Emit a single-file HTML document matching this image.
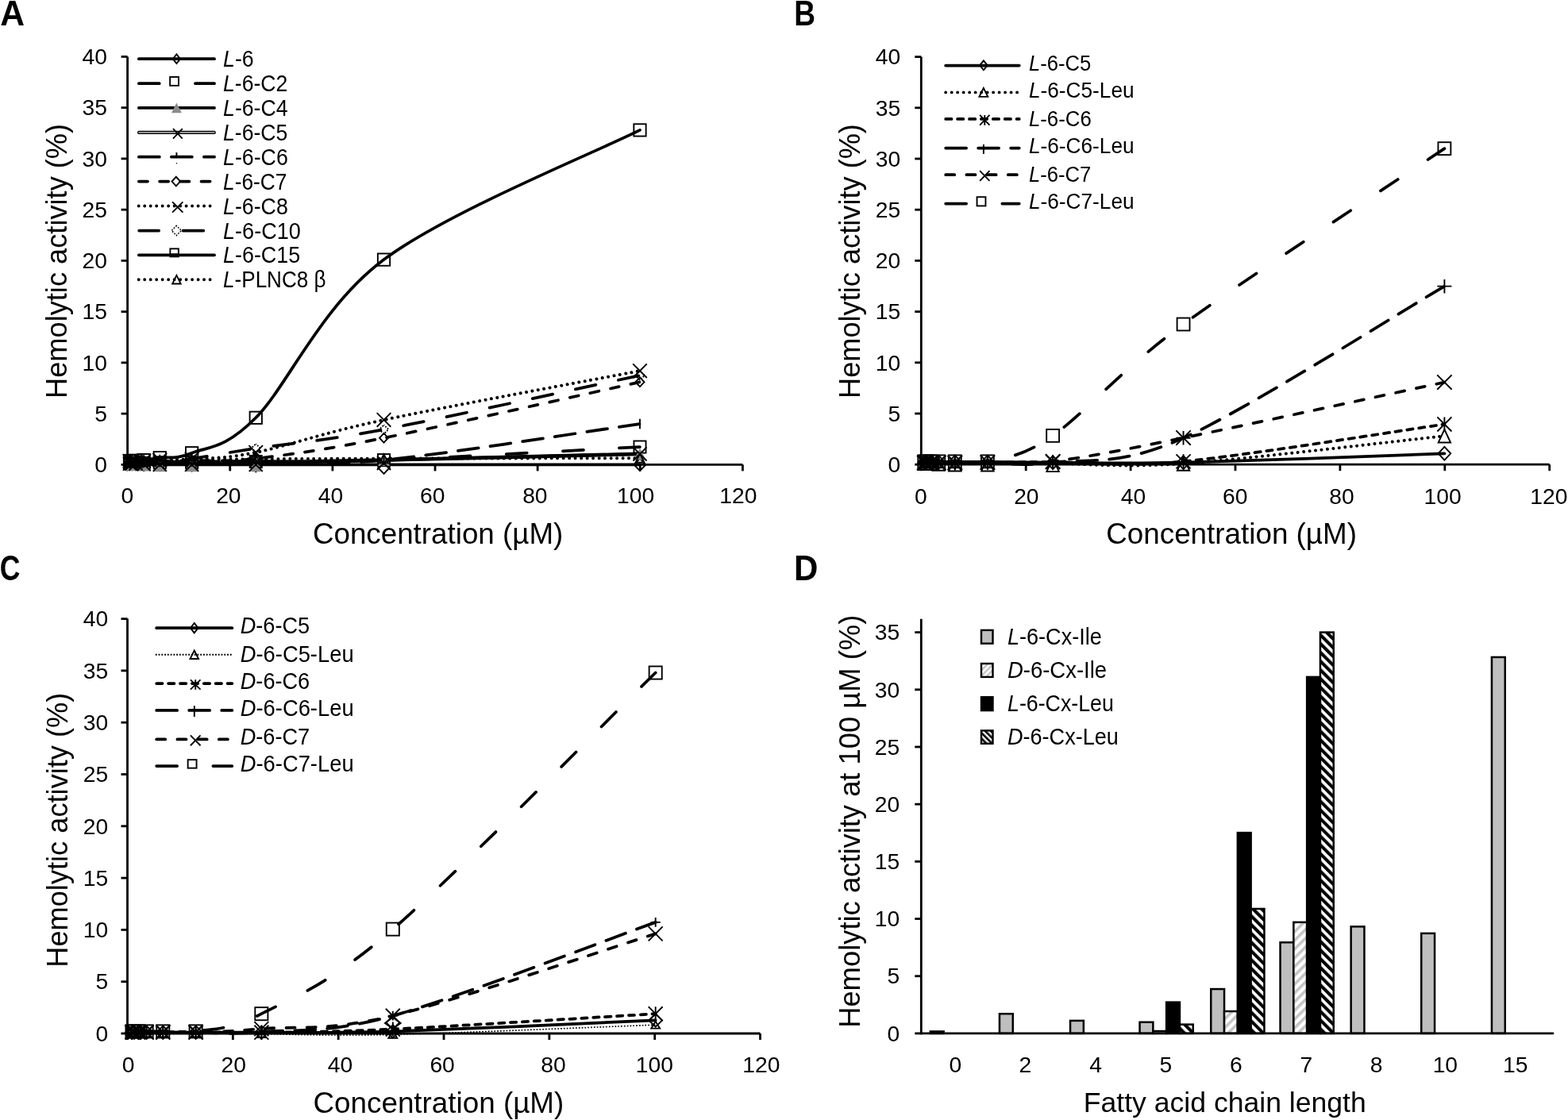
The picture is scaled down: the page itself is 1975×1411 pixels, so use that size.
<!DOCTYPE html><html><head><meta charset="utf-8"><title>Hemolytic activity</title><style>html,body{margin:0;padding:0;background:#fff}svg{display:block;font-kerning:none}</style></head><body>
<svg width="1975" height="1411" viewBox="0 0 1975 1411" font-family='"Liberation Sans", Arial, sans-serif'>
<defs><pattern id="hatchD" patternUnits="userSpaceOnUse" width="7.8" height="7.8" patternTransform="rotate(-45)"><rect width="7.8" height="7.8" fill="#fff"/><rect width="4.1" height="7.8" fill="#000"/></pattern><pattern id="hatchL" patternUnits="userSpaceOnUse" width="7.8" height="7.8" patternTransform="rotate(45)"><rect width="7.8" height="7.8" fill="#fff"/><rect width="3.6" height="7.8" fill="#c4c4c4"/></pattern><pattern id="hatchDs" patternUnits="userSpaceOnUse" width="5" height="5" patternTransform="rotate(-45)"><rect width="5" height="5" fill="#fff"/><rect width="2.6" height="5" fill="#000"/></pattern><pattern id="hatchLs" patternUnits="userSpaceOnUse" width="5" height="5" patternTransform="rotate(45)"><rect width="5" height="5" fill="#fff"/><rect width="2.4" height="5" fill="#c4c4c4"/></pattern></defs>
<rect width="1975" height="1411" fill="#fff"/>
<text x="0.34" y="31.9" font-size="44.5" font-weight="bold" textLength="30.79" lengthAdjust="spacingAndGlyphs">A</text>
<text x="1000.22" y="31.9" font-size="44.5" font-weight="bold" textLength="26.76" lengthAdjust="spacingAndGlyphs">B</text>
<text x="-0.16" y="731.2" font-size="44.5" font-weight="bold" textLength="25.74" lengthAdjust="spacingAndGlyphs">C</text>
<text x="999.89" y="731.2" font-size="44.5" font-weight="bold" textLength="30.38" lengthAdjust="spacingAndGlyphs">D</text>
<path d="M160.6,71.4 L160.6,585.4 L935.44,585.4" fill="none" stroke="#000" stroke-width="2.8" stroke-linejoin="round"/>
<line x1="152.6" y1="585.4" x2="160.6" y2="585.4" stroke="#000" stroke-width="2.8"/>
<line x1="152.6" y1="521.15" x2="160.6" y2="521.15" stroke="#000" stroke-width="2.8"/>
<line x1="152.6" y1="456.9" x2="160.6" y2="456.9" stroke="#000" stroke-width="2.8"/>
<line x1="152.6" y1="392.65" x2="160.6" y2="392.65" stroke="#000" stroke-width="2.8"/>
<line x1="152.6" y1="328.4" x2="160.6" y2="328.4" stroke="#000" stroke-width="2.8"/>
<line x1="152.6" y1="264.15" x2="160.6" y2="264.15" stroke="#000" stroke-width="2.8"/>
<line x1="152.6" y1="199.9" x2="160.6" y2="199.9" stroke="#000" stroke-width="2.8"/>
<line x1="152.6" y1="135.65" x2="160.6" y2="135.65" stroke="#000" stroke-width="2.8"/>
<line x1="152.6" y1="71.4" x2="160.6" y2="71.4" stroke="#000" stroke-width="2.8"/>
<line x1="160.6" y1="585.4" x2="160.6" y2="593.4" stroke="#000" stroke-width="2.8"/>
<line x1="289.74" y1="585.4" x2="289.74" y2="593.4" stroke="#000" stroke-width="2.8"/>
<line x1="418.88" y1="585.4" x2="418.88" y2="593.4" stroke="#000" stroke-width="2.8"/>
<line x1="548.02" y1="585.4" x2="548.02" y2="593.4" stroke="#000" stroke-width="2.8"/>
<line x1="677.16" y1="585.4" x2="677.16" y2="593.4" stroke="#000" stroke-width="2.8"/>
<line x1="806.3" y1="585.4" x2="806.3" y2="593.4" stroke="#000" stroke-width="2.8"/>
<line x1="935.44" y1="585.4" x2="935.44" y2="593.4" stroke="#000" stroke-width="2.8"/>
<text x="119.19" y="595.12" font-size="28.25">0</text>
<text x="119.27" y="530.87" font-size="28.25">5</text>
<text x="103.48" y="466.62" font-size="28.25">10</text>
<text x="103.56" y="402.37" font-size="28.25">15</text>
<text x="103.48" y="338.12" font-size="28.25">20</text>
<text x="103.56" y="273.87" font-size="28.25">25</text>
<text x="103.48" y="209.62" font-size="28.25">30</text>
<text x="103.56" y="145.37" font-size="28.25">35</text>
<text x="103.48" y="81.12" font-size="28.25">40</text>
<text x="152.54" y="634.4" font-size="28.25">0</text>
<text x="272.13" y="634.4" font-size="28.25">20</text>
<text x="400.72" y="634.4" font-size="28.25">40</text>
<text x="529.12" y="634.4" font-size="28.25">60</text>
<text x="658.13" y="634.4" font-size="28.25">80</text>
<text x="777.11" y="634.4" font-size="28.25">100</text>
<text x="906.31" y="634.4" font-size="28.25">120</text>
<path d="M163.52,584.12 C163.93,584.12 164.77,584.12 166.03,584.12 C167.29,584.12 168.54,584.12 171.06,584.12 C173.58,584.12 176.11,584.12 181.16,584.12 C186.2,584.12 191.23,584.12 201.31,584.12 C211.39,584.12 221.47,584.33 241.62,584.12 C261.78,583.9 281.94,583.58 322.25,582.83 C362.56,582.08 402.88,581.44 483.5,579.62 C564.12,577.8 752.25,573.19 806,571.91" fill="none" stroke="#000" stroke-width="4.6" stroke-linecap="round" stroke-linejoin="round"/>
<path d="M163.52,584.12 C163.93,584.12 164.77,584.12 166.03,584.12 C167.29,584.12 168.54,584.12 171.06,584.12 C173.58,584.12 176.11,584.12 181.16,584.12 C186.2,584.12 191.23,584.12 201.31,584.12 C211.39,584.12 221.47,584.33 241.62,584.12 C261.78,583.9 281.94,583.58 322.25,582.83 C362.56,582.08 402.88,581.44 483.5,579.62 C564.12,577.8 752.25,573.19 806,571.91" fill="none" stroke="#a6a6a6" stroke-width="1.8" stroke-linecap="round" stroke-linejoin="round"/>
<path d="M163.52,584.76 C163.93,584.76 164.77,584.76 166.03,584.76 C167.29,584.76 168.54,584.65 171.06,584.76 C173.58,584.86 176.11,585.29 181.16,585.4 C186.2,585.51 191.23,585.4 201.31,585.4 C211.39,585.4 221.47,585.4 241.62,585.4 C261.78,585.4 281.94,585.4 322.25,585.4 C362.56,585.4 402.88,585.4 483.5,585.4 C564.12,585.4 752.25,585.4 806,585.4" fill="none" stroke="#000" stroke-width="3.75" stroke-linecap="round" stroke-linejoin="round"/>
<path d="M163.52,584.12 C163.93,584.12 164.77,584.12 166.03,584.12 C167.29,584.12 168.54,584.22 171.06,584.12 C173.58,584.01 176.11,583.69 181.16,583.47 C186.2,583.26 191.23,582.94 201.31,582.83 C211.39,582.72 221.47,583.04 241.62,582.83 C261.78,582.62 281.94,582.08 322.25,581.54 C362.56,581.01 402.88,582.7 483.5,579.62 C564.12,576.53 752.25,565.8 806,563.04" fill="none" stroke="#000" stroke-width="3.75" stroke-linecap="round" stroke-linejoin="round" stroke-dasharray="25.95 45.25" stroke-dashoffset="-47.3"/>
<path d="M163.52,584.12 C163.93,584.12 164.77,584.12 166.03,584.12 C167.29,584.12 168.54,584.12 171.06,584.12 C173.58,584.12 176.11,584.12 181.16,584.12 C186.2,584.12 191.23,584.12 201.31,584.12 C211.39,584.12 221.47,584.12 241.62,584.12 C261.78,584.12 281.94,584.86 322.25,584.12 C362.56,583.37 402.88,581.65 483.5,579.62 C564.12,577.58 752.25,573.19 806,571.91" fill="none" stroke="#000" stroke-width="3.75" stroke-linecap="round" stroke-linejoin="round"/>
<path d="M163.52,581.54 C163.93,581.54 164.77,581.54 166.03,581.54 C167.29,581.54 168.54,581.54 171.06,581.54 C173.58,581.54 176.11,581.54 181.16,581.54 C186.2,581.54 191.23,581.54 201.31,581.54 C211.39,581.54 221.47,581.65 241.62,581.54 C261.78,581.44 281.94,581.22 322.25,580.9 C362.56,580.58 402.88,587.43 483.5,579.62 C564.12,571.8 752.25,541.6 806,534" fill="none" stroke="#000" stroke-width="3.75" stroke-linecap="round" stroke-linejoin="round" stroke-dasharray="25.95 15.05" stroke-dashoffset="-4.4"/>
<path d="M163.52,582.19 C163.93,582.19 164.77,582.19 166.03,582.19 C167.29,582.19 168.54,582.19 171.06,582.19 C173.58,582.19 176.11,582.29 181.16,582.19 C186.2,582.08 191.23,581.87 201.31,581.54 C211.39,581.22 221.47,580.9 241.62,580.26 C261.78,579.62 281.94,582.44 322.25,577.69 C362.56,572.94 402.88,567.8 483.5,551.73 C564.12,535.67 752.25,493.05 806,481.31" fill="none" stroke="#000" stroke-width="3.75" stroke-linecap="round" stroke-linejoin="round" stroke-dasharray="11.1 15.1" stroke-dashoffset="-11.7"/>
<path d="M163.52,580.9 C163.93,580.9 164.77,580.9 166.03,580.9 C167.29,580.9 168.54,580.9 171.06,580.9 C173.58,580.9 176.11,581.12 181.16,580.9 C186.2,580.69 191.23,580.05 201.31,579.62 C211.39,579.19 221.47,579.94 241.62,578.33 C261.78,576.73 281.94,578.2 322.25,569.98 C362.56,561.76 402.88,546.12 483.5,528.99 C564.12,511.86 752.25,477.48 806,467.18" fill="none" stroke="#000" stroke-width="4.05" stroke-linecap="round" stroke-dasharray="0.01 7.47"/>
<path d="M163.52,581.54 C163.93,581.54 164.77,581.54 166.03,581.54 C167.29,581.54 168.54,581.54 171.06,581.54 C173.58,581.54 176.11,581.76 181.16,581.54 C186.2,581.33 191.23,580.9 201.31,580.26 C211.39,579.62 221.47,580.26 241.62,577.69 C261.78,575.12 281.94,570.94 322.25,564.84 C362.56,558.74 402.88,556.38 483.5,541.07 C564.12,525.75 752.25,484.31 806,472.96" fill="none" stroke="#000" stroke-width="3.75" stroke-linecap="round" stroke-linejoin="round" stroke-dasharray="25.95 29.35" stroke-dashoffset="-16.5"/>
<path d="M163.52,580.9 C163.93,580.9 164.77,581.01 166.03,580.9 C167.29,580.8 168.54,580.47 171.06,580.26 C173.58,580.05 176.11,580.22 181.16,579.62 C186.2,579.02 191.23,578.14 201.31,576.66 C211.39,575.18 221.47,579.15 241.62,570.75 C261.78,562.36 281.94,566.9 322.25,526.29 C362.56,485.68 402.88,387.51 483.5,327.11 C564.12,266.72 752.25,191.12 806,163.92" fill="none" stroke="#000" stroke-width="3.75" stroke-linecap="round" stroke-linejoin="round"/>
<path d="M163.52,579.62 C163.93,579.62 164.77,579.62 166.03,579.62 C167.29,579.62 168.54,579.62 171.06,579.62 C173.58,579.62 176.11,579.62 181.16,579.62 C186.2,579.62 191.23,579.72 201.31,579.62 C211.39,579.51 221.47,579.19 241.62,578.98 C261.78,578.76 281.94,578.55 322.25,578.33 C362.56,578.12 402.88,577.88 483.5,577.69 C564.12,577.5 752.25,577.26 806,577.18" fill="none" stroke="#000" stroke-width="4.05" stroke-linecap="round" stroke-dasharray="0.01 7.47"/>
<path d="M163.52,577.11 L170.87,584.76 L163.52,592.41 L156.17,584.76 Z" fill="none" stroke="#000" stroke-width="1.9"/>
<path d="M166.03,577.11 L173.38,584.76 L166.03,592.41 L158.68,584.76 Z" fill="none" stroke="#000" stroke-width="1.9"/>
<path d="M171.06,577.11 L178.41,584.76 L171.06,592.41 L163.71,584.76 Z" fill="none" stroke="#000" stroke-width="1.9"/>
<path d="M181.16,577.75 L188.51,585.4 L181.16,593.05 L173.81,585.4 Z" fill="none" stroke="#000" stroke-width="1.9"/>
<path d="M201.31,577.75 L208.66,585.4 L201.31,593.05 L193.96,585.4 Z" fill="none" stroke="#000" stroke-width="1.9"/>
<path d="M241.62,578.39 L248.97,586.04 L241.62,593.69 L234.28,586.04 Z" fill="none" stroke="#000" stroke-width="1.9"/>
<path d="M322.25,579.03 L329.6,586.68 L322.25,594.33 L314.9,586.68 Z" fill="none" stroke="#000" stroke-width="1.9"/>
<path d="M483.5,581.61 L490.85,589.25 L483.5,596.9 L476.15,589.25 Z" fill="none" stroke="#000" stroke-width="1.9"/>
<path d="M806,577.75 L813.35,585.4 L806,593.05 L798.65,585.4 Z" fill="none" stroke="#000" stroke-width="1.9"/>
<rect x="155.97" y="576.57" width="15.1" height="15.1" fill="none" stroke="#000" stroke-width="1.9"/>
<rect x="158.48" y="576.57" width="15.1" height="15.1" fill="none" stroke="#000" stroke-width="1.9"/>
<rect x="163.51" y="576.57" width="15.1" height="15.1" fill="none" stroke="#000" stroke-width="1.9"/>
<rect x="173.61" y="575.92" width="15.1" height="15.1" fill="none" stroke="#000" stroke-width="1.9"/>
<rect x="193.76" y="575.28" width="15.1" height="15.1" fill="none" stroke="#000" stroke-width="1.9"/>
<rect x="234.07" y="575.28" width="15.1" height="15.1" fill="none" stroke="#000" stroke-width="1.9"/>
<rect x="314.7" y="574" width="15.1" height="15.1" fill="none" stroke="#000" stroke-width="1.9"/>
<rect x="475.95" y="572.07" width="15.1" height="15.1" fill="none" stroke="#000" stroke-width="1.9"/>
<rect x="798.45" y="555.49" width="15.1" height="15.1" fill="none" stroke="#000" stroke-width="1.9"/>
<path d="M163.52,577.9 L171.02,592.9 L156.02,592.9 Z" fill="#8c8c8c"/>
<path d="M166.03,577.9 L173.53,592.9 L158.53,592.9 Z" fill="#8c8c8c"/>
<path d="M171.06,577.9 L178.56,592.9 L163.56,592.9 Z" fill="#8c8c8c"/>
<path d="M181.16,578.54 L188.66,593.54 L173.66,593.54 Z" fill="#8c8c8c"/>
<path d="M201.31,579.18 L208.81,594.18 L193.81,594.18 Z" fill="#8c8c8c"/>
<path d="M241.62,579.18 L249.12,594.18 L234.12,594.18 Z" fill="#8c8c8c"/>
<path d="M322.25,579.18 L329.75,594.18 L314.75,594.18 Z" fill="#8c8c8c"/>
<path d="M483.5,572.12 L491,587.12 L476,587.12 Z" fill="#8c8c8c"/>
<path d="M806,564.41 L813.5,579.41 L798.5,579.41 Z" fill="#8c8c8c"/>
<path d="M154.97,575.57 L172.07,592.66 M172.07,575.57 L154.97,592.66" stroke="#000" stroke-width="1.9" fill="none"/>
<path d="M157.48,575.57 L174.58,592.66 M174.58,575.57 L157.48,592.66" stroke="#000" stroke-width="1.9" fill="none"/>
<path d="M162.51,575.57 L179.61,592.66 M179.61,575.57 L162.51,592.66" stroke="#000" stroke-width="1.9" fill="none"/>
<path d="M172.61,576.21 L189.71,593.31 M189.71,576.21 L172.61,593.31" stroke="#000" stroke-width="1.9" fill="none"/>
<path d="M192.76,576.85 L209.86,593.95 M209.86,576.85 L192.76,593.95" stroke="#000" stroke-width="1.9" fill="none"/>
<path d="M233.07,576.85 L250.18,593.95 M250.18,576.85 L233.07,593.95" stroke="#000" stroke-width="1.9" fill="none"/>
<path d="M313.7,576.85 L330.8,593.95 M330.8,576.85 L313.7,593.95" stroke="#000" stroke-width="1.9" fill="none"/>
<path d="M474.95,574.92 L492.05,592.02 M492.05,574.92 L474.95,592.02" stroke="#000" stroke-width="1.9" fill="none"/>
<path d="M797.45,563.36 L814.55,580.46 M814.55,563.36 L797.45,580.46" stroke="#000" stroke-width="1.9" fill="none"/>
<path d="M163.52,575.25 L163.52,587.84" stroke="#000" stroke-width="1.9" fill="none"/>
<path d="M166.03,575.25 L166.03,587.84" stroke="#000" stroke-width="1.9" fill="none"/>
<path d="M171.06,575.25 L171.06,587.84" stroke="#000" stroke-width="1.9" fill="none"/>
<path d="M181.16,575.25 L181.16,587.84" stroke="#000" stroke-width="1.9" fill="none"/>
<path d="M201.31,575.25 L201.31,587.84" stroke="#000" stroke-width="1.9" fill="none"/>
<path d="M241.62,575.25 L241.62,587.84" stroke="#000" stroke-width="1.9" fill="none"/>
<path d="M322.25,574.6 L322.25,587.2" stroke="#000" stroke-width="1.9" fill="none"/>
<path d="M483.5,573.32 L483.5,585.92" stroke="#000" stroke-width="1.9" fill="none"/>
<path d="M806,527.7 L806,540.3" stroke="#000" stroke-width="1.9" fill="none"/>
<path d="M163.52,576.34 L169.02,582.19 L163.52,588.04 L158.02,582.19 Z" fill="none" stroke="#000" stroke-width="1.9"/>
<path d="M166.03,576.34 L171.53,582.19 L166.03,588.04 L160.53,582.19 Z" fill="none" stroke="#000" stroke-width="1.9"/>
<path d="M171.06,576.34 L176.56,582.19 L171.06,588.04 L165.56,582.19 Z" fill="none" stroke="#000" stroke-width="1.9"/>
<path d="M181.16,576.34 L186.66,582.19 L181.16,588.04 L175.66,582.19 Z" fill="none" stroke="#000" stroke-width="1.9"/>
<path d="M201.31,575.69 L206.81,581.54 L201.31,587.39 L195.81,581.54 Z" fill="none" stroke="#000" stroke-width="1.9"/>
<path d="M241.62,574.41 L247.12,580.26 L241.62,586.11 L236.12,580.26 Z" fill="none" stroke="#000" stroke-width="1.9"/>
<path d="M322.25,571.84 L327.75,577.69 L322.25,583.54 L316.75,577.69 Z" fill="none" stroke="#000" stroke-width="1.9"/>
<path d="M483.5,545.88 L489,551.73 L483.5,557.58 L478,551.73 Z" fill="none" stroke="#000" stroke-width="1.9"/>
<path d="M806,475.46 L811.5,481.31 L806,487.17 L800.5,481.31 Z" fill="none" stroke="#000" stroke-width="1.9"/>
<path d="M154.72,572.1 L172.32,589.7 M172.32,572.1 L154.72,589.7" stroke="#000" stroke-width="1.9" fill="none"/>
<path d="M157.23,572.1 L174.83,589.7 M174.83,572.1 L157.23,589.7" stroke="#000" stroke-width="1.9" fill="none"/>
<path d="M162.26,572.1 L179.86,589.7 M179.86,572.1 L162.26,589.7" stroke="#000" stroke-width="1.9" fill="none"/>
<path d="M172.36,572.1 L189.96,589.7 M189.96,572.1 L172.36,589.7" stroke="#000" stroke-width="1.9" fill="none"/>
<path d="M192.51,570.82 L210.11,588.42 M210.11,570.82 L192.51,588.42" stroke="#000" stroke-width="1.9" fill="none"/>
<path d="M232.82,569.53 L250.43,587.13 M250.43,569.53 L232.82,587.13" stroke="#000" stroke-width="1.9" fill="none"/>
<path d="M313.45,561.18 L331.05,578.78 M331.05,561.18 L313.45,578.78" stroke="#000" stroke-width="1.9" fill="none"/>
<path d="M474.7,520.19 L492.3,537.79 M492.3,520.19 L474.7,537.79" stroke="#000" stroke-width="1.9" fill="none"/>
<path d="M797.2,458.38 L814.8,475.98 M814.8,458.38 L797.2,475.98" stroke="#000" stroke-width="1.9" fill="none"/>
<path d="M163.52,575.89 L169.37,581.54 L163.52,587.19 L157.67,581.54 Z" fill="none" stroke="#000" stroke-width="1.9" stroke-dasharray="1.7 1.7" stroke-dashoffset="0.85"/>
<path d="M166.03,575.89 L171.88,581.54 L166.03,587.19 L160.18,581.54 Z" fill="none" stroke="#000" stroke-width="1.9" stroke-dasharray="1.7 1.7" stroke-dashoffset="0.85"/>
<path d="M171.06,575.89 L176.91,581.54 L171.06,587.19 L165.21,581.54 Z" fill="none" stroke="#000" stroke-width="1.9" stroke-dasharray="1.7 1.7" stroke-dashoffset="0.85"/>
<path d="M181.16,575.89 L187.01,581.54 L181.16,587.19 L175.31,581.54 Z" fill="none" stroke="#000" stroke-width="1.9" stroke-dasharray="1.7 1.7" stroke-dashoffset="0.85"/>
<path d="M201.31,574.61 L207.16,580.26 L201.31,585.91 L195.46,580.26 Z" fill="none" stroke="#000" stroke-width="1.9" stroke-dasharray="1.7 1.7" stroke-dashoffset="0.85"/>
<path d="M241.62,572.04 L247.47,577.69 L241.62,583.34 L235.78,577.69 Z" fill="none" stroke="#000" stroke-width="1.9" stroke-dasharray="1.7 1.7" stroke-dashoffset="0.85"/>
<path d="M322.25,559.19 L328.1,564.84 L322.25,570.49 L316.4,564.84 Z" fill="none" stroke="#000" stroke-width="1.9" stroke-dasharray="1.7 1.7" stroke-dashoffset="0.85"/>
<path d="M483.5,535.42 L489.35,541.07 L483.5,546.72 L477.65,541.07 Z" fill="none" stroke="#000" stroke-width="1.9" stroke-dasharray="1.7 1.7" stroke-dashoffset="0.85"/>
<path d="M806,467.31 L811.85,472.96 L806,478.61 L800.15,472.96 Z" fill="none" stroke="#000" stroke-width="1.9" stroke-dasharray="1.7 1.7" stroke-dashoffset="0.85"/>
<rect x="155.87" y="573.25" width="15.3" height="15.3" fill="none" stroke="#000" stroke-width="1.9"/>
<rect x="158.38" y="573.25" width="15.3" height="15.3" fill="none" stroke="#000" stroke-width="1.9"/>
<rect x="163.41" y="572.61" width="15.3" height="15.3" fill="none" stroke="#000" stroke-width="1.9"/>
<rect x="173.51" y="571.97" width="15.3" height="15.3" fill="none" stroke="#000" stroke-width="1.9"/>
<rect x="193.66" y="569.01" width="15.3" height="15.3" fill="none" stroke="#000" stroke-width="1.9"/>
<rect x="233.97" y="563.1" width="15.3" height="15.3" fill="none" stroke="#000" stroke-width="1.9"/>
<rect x="314.6" y="518.64" width="15.3" height="15.3" fill="none" stroke="#000" stroke-width="1.9"/>
<rect x="475.85" y="319.46" width="15.3" height="15.3" fill="none" stroke="#000" stroke-width="1.9"/>
<rect x="798.35" y="156.27" width="15.3" height="15.3" fill="none" stroke="#000" stroke-width="1.9"/>
<path d="M163.52,574.07 L169.07,585.17 L157.97,585.17 Z" fill="none" stroke="#000" stroke-width="1.9"/>
<path d="M166.03,574.07 L171.58,585.17 L160.48,585.17 Z" fill="none" stroke="#000" stroke-width="1.9"/>
<path d="M171.06,574.07 L176.61,585.17 L165.51,585.17 Z" fill="none" stroke="#000" stroke-width="1.9"/>
<path d="M181.16,574.07 L186.71,585.17 L175.61,585.17 Z" fill="none" stroke="#000" stroke-width="1.9"/>
<path d="M201.31,574.07 L206.86,585.17 L195.76,585.17 Z" fill="none" stroke="#000" stroke-width="1.9"/>
<path d="M241.62,573.43 L247.18,584.52 L236.07,584.52 Z" fill="none" stroke="#000" stroke-width="1.9"/>
<path d="M322.25,572.78 L327.8,583.88 L316.7,583.88 Z" fill="none" stroke="#000" stroke-width="1.9"/>
<path d="M483.5,572.14 L489.05,583.24 L477.95,583.24 Z" fill="none" stroke="#000" stroke-width="1.9"/>
<path d="M806,571.63 L811.55,582.73 L800.45,582.73 Z" fill="none" stroke="#000" stroke-width="1.9"/>
<path d="M174.88,74.2 H270.02" stroke="#000" stroke-width="3.75" stroke-linecap="round"/>
<path d="M174.88,105.2 H270.02" stroke="#000" stroke-width="3.75" stroke-linecap="round" stroke-dasharray="25.85 45.25"/>
<path d="M174.88,135.9 H270.02" stroke="#000" stroke-width="3.75" stroke-linecap="round"/>
<path d="M175.2,166.9 H269.7" stroke="#000" stroke-width="4.4" stroke-linecap="round"/>
<path d="M175.2,166.9 H269.7" stroke="#a6a6a6" stroke-width="1.8" stroke-linecap="round"/>
<path d="M174.88,197.7 H270.02" stroke="#000" stroke-width="3.75" stroke-linecap="round" stroke-dasharray="25.95 15.05"/>
<path d="M174.88,228.6 H270.02" stroke="#000" stroke-width="3.75" stroke-linecap="round" stroke-dasharray="11.1 15.1"/>
<path d="M174.7,259.5 H264.7" stroke="#000" stroke-width="3.9" stroke-linecap="round" stroke-dasharray="0.01 7.48"/>
<path d="M175.2,290.5 H200.1 M230.5,290.5 H256.3" stroke="#000" stroke-width="3.75" stroke-linecap="round"/>
<path d="M174.88,321.3 H270.02" stroke="#000" stroke-width="3.75" stroke-linecap="round"/>
<path d="M174.7,352.3 H264.7" stroke="#000" stroke-width="3.9" stroke-linecap="round" stroke-dasharray="0.01 7.48"/>
<path d="M222.4,68.35 L227.05,74.2 L222.4,80.05 L217.75,74.2 Z" fill="none" stroke="#000" stroke-width="1.9"/>
<rect x="214.15" y="96.95" width="10.8" height="10.9" fill="none" stroke="#000" stroke-width="1.9"/>
<path d="M222.4,129.5 L228.8,142.3 L216,142.3 Z" fill="#8c8c8c"/>
<path d="M217.95,162.15 L229.75,174.55 M229.75,162.15 L217.95,174.55" stroke="#000" stroke-width="1.9" fill="none"/>
<path d="M222.4,192.1 V199.1" stroke="#000" stroke-width="1.9"/><circle cx="222.4" cy="205.8" r="0.8" fill="#000"/>
<path d="M221.8,222.75 L227.05,228.6 L221.8,234.45 L216.55,228.6 Z" fill="none" stroke="#000" stroke-width="1.9"/>
<path d="M217.05,254.35 L230.35,267.65 M230.35,254.35 L217.05,267.65" stroke="#000" stroke-width="1.9" fill="none"/>
<path d="M222.3,284.45 L228.5,290.5 L222.3,296.55 L216.1,290.5 Z" fill="none" stroke="#000" stroke-width="1.6" stroke-dasharray="1.7 1.7" stroke-dashoffset="0.85"/>
<rect x="214.35" y="313.35" width="10.5" height="10" fill="none" stroke="#000" stroke-width="1.9"/>
<rect x="214.4" y="319.4" width="10.4" height="4.6" fill="#000"/>
<path d="M222.4,346.95 L227.65,357.45 L217.15,357.45 Z" fill="none" stroke="#000" stroke-width="1.9"/>
<text x="281.08" y="84.2" font-size="29.65" textLength="38.59" lengthAdjust="spacingAndGlyphs"><tspan font-style="italic">L</tspan>-6</text>
<text x="281.08" y="115.1" font-size="29.65" textLength="81.25" lengthAdjust="spacingAndGlyphs"><tspan font-style="italic">L</tspan>-6-C2</text>
<text x="281.08" y="146" font-size="29.65" textLength="81.5" lengthAdjust="spacingAndGlyphs"><tspan font-style="italic">L</tspan>-6-C4</text>
<text x="281.08" y="176.9" font-size="29.65" textLength="81.23" lengthAdjust="spacingAndGlyphs"><tspan font-style="italic">L</tspan>-6-C5</text>
<text x="281.08" y="207.8" font-size="29.65" textLength="81.7" lengthAdjust="spacingAndGlyphs"><tspan font-style="italic">L</tspan>-6-C6</text>
<text x="281.09" y="238.7" font-size="29.65" textLength="80.23" lengthAdjust="spacingAndGlyphs"><tspan font-style="italic">L</tspan>-6-C7</text>
<text x="281.08" y="269.6" font-size="29.65" textLength="81.68" lengthAdjust="spacingAndGlyphs"><tspan font-style="italic">L</tspan>-6-C8</text>
<text x="281.07" y="300.5" font-size="29.65" textLength="97.69" lengthAdjust="spacingAndGlyphs"><tspan font-style="italic">L</tspan>-6-C10</text>
<text x="281.07" y="331.4" font-size="29.65" textLength="97.05" lengthAdjust="spacingAndGlyphs"><tspan font-style="italic">L</tspan>-6-C15</text>
<text x="281.1" y="362.3" font-size="29.65" textLength="129.33" lengthAdjust="spacingAndGlyphs"><tspan font-style="italic">L</tspan>-PLNC8 β</text>
<path d="M1160.3,71.6 L1160.3,585.2 L1951.7,585.2" fill="none" stroke="#000" stroke-width="2.8" stroke-linejoin="round"/>
<line x1="1152.3" y1="585.2" x2="1160.3" y2="585.2" stroke="#000" stroke-width="2.8"/>
<line x1="1152.3" y1="521" x2="1160.3" y2="521" stroke="#000" stroke-width="2.8"/>
<line x1="1152.3" y1="456.8" x2="1160.3" y2="456.8" stroke="#000" stroke-width="2.8"/>
<line x1="1152.3" y1="392.6" x2="1160.3" y2="392.6" stroke="#000" stroke-width="2.8"/>
<line x1="1152.3" y1="328.4" x2="1160.3" y2="328.4" stroke="#000" stroke-width="2.8"/>
<line x1="1152.3" y1="264.2" x2="1160.3" y2="264.2" stroke="#000" stroke-width="2.8"/>
<line x1="1152.3" y1="200" x2="1160.3" y2="200" stroke="#000" stroke-width="2.8"/>
<line x1="1152.3" y1="135.8" x2="1160.3" y2="135.8" stroke="#000" stroke-width="2.8"/>
<line x1="1152.3" y1="71.6" x2="1160.3" y2="71.6" stroke="#000" stroke-width="2.8"/>
<line x1="1160.3" y1="585.2" x2="1160.3" y2="593.2" stroke="#000" stroke-width="2.8"/>
<line x1="1292.2" y1="585.2" x2="1292.2" y2="593.2" stroke="#000" stroke-width="2.8"/>
<line x1="1424.1" y1="585.2" x2="1424.1" y2="593.2" stroke="#000" stroke-width="2.8"/>
<line x1="1556" y1="585.2" x2="1556" y2="593.2" stroke="#000" stroke-width="2.8"/>
<line x1="1687.9" y1="585.2" x2="1687.9" y2="593.2" stroke="#000" stroke-width="2.8"/>
<line x1="1819.8" y1="585.2" x2="1819.8" y2="593.2" stroke="#000" stroke-width="2.8"/>
<line x1="1951.7" y1="585.2" x2="1951.7" y2="593.2" stroke="#000" stroke-width="2.8"/>
<text x="1118.39" y="594.92" font-size="28.25">0</text>
<text x="1118.47" y="530.72" font-size="28.25">5</text>
<text x="1102.68" y="466.52" font-size="28.25">10</text>
<text x="1102.76" y="402.32" font-size="28.25">15</text>
<text x="1102.68" y="338.12" font-size="28.25">20</text>
<text x="1102.76" y="273.92" font-size="28.25">25</text>
<text x="1102.68" y="209.72" font-size="28.25">30</text>
<text x="1102.76" y="145.52" font-size="28.25">35</text>
<text x="1102.68" y="81.32" font-size="28.25">40</text>
<text x="1151.94" y="634.5" font-size="28.25">0</text>
<text x="1277.13" y="634.5" font-size="28.25">20</text>
<text x="1411.72" y="634.5" font-size="28.25">40</text>
<text x="1540.02" y="634.5" font-size="28.25">60</text>
<text x="1674.23" y="634.5" font-size="28.25">80</text>
<text x="1793.51" y="634.5" font-size="28.25">100</text>
<text x="1927.31" y="634.5" font-size="28.25">120</text>
<path d="M1164.27,581.99 C1164.69,581.99 1165.55,581.99 1166.83,581.99 C1168.11,581.99 1169.39,581.99 1171.96,581.99 C1174.53,581.99 1177.11,581.99 1182.25,581.99 C1187.39,581.99 1192.53,581.99 1202.81,581.99 C1213.08,581.99 1223.36,581.88 1243.91,581.99 C1264.47,582.1 1285.02,582.53 1326.12,582.63 C1367.23,582.74 1408.34,584.52 1490.55,582.63 C1572.76,580.75 1764.59,573.22 1819.4,571.33" fill="none" stroke="#000" stroke-width="3.75" stroke-linecap="round" stroke-linejoin="round"/>
<path d="M1164.27,583.92 C1164.69,583.92 1165.55,583.92 1166.83,583.92 C1168.11,583.92 1169.39,583.92 1171.96,583.92 C1174.53,583.92 1177.11,583.92 1182.25,583.92 C1187.39,583.92 1192.53,583.92 1202.81,583.92 C1213.08,583.92 1223.36,583.92 1243.91,583.92 C1264.47,583.92 1285.02,583.92 1326.12,583.92 C1367.23,583.92 1408.34,589.69 1490.55,583.92 C1572.76,578.14 1764.59,555.03 1819.4,549.25" fill="none" stroke="#000" stroke-width="4.05" stroke-linecap="round" stroke-dasharray="0.01 7.47"/>
<path d="M1164.27,582.63 C1164.69,582.63 1165.55,582.63 1166.83,582.63 C1168.11,582.63 1169.39,582.63 1171.96,582.63 C1174.53,582.63 1177.11,582.63 1182.25,582.63 C1187.39,582.63 1192.53,582.63 1202.81,582.63 C1213.08,582.63 1223.36,582.74 1243.91,582.63 C1264.47,582.53 1285.02,582.2 1326.12,581.99 C1367.23,581.78 1408.34,589.27 1490.55,581.35 C1572.76,573.43 1764.59,542.29 1819.4,534.48" fill="none" stroke="#000" stroke-width="3.75" stroke-linecap="round" stroke-linejoin="round" stroke-dasharray="7.35 7.55"/>
<path d="M1164.27,583.92 C1164.69,583.92 1165.55,583.92 1166.83,583.92 C1168.11,583.92 1169.39,583.92 1171.96,583.92 C1174.53,583.92 1177.11,583.92 1182.25,583.92 C1187.39,583.92 1192.53,584.02 1202.81,583.92 C1213.08,583.81 1223.36,583.49 1243.91,583.27 C1264.47,583.06 1285.02,587.88 1326.12,582.63 C1367.23,577.39 1408.34,588.82 1490.55,551.82 C1572.76,514.82 1764.59,392.49 1819.4,360.63" fill="none" stroke="#000" stroke-width="3.75" stroke-linecap="round" stroke-linejoin="round" stroke-dasharray="25.95 15.05" stroke-dashoffset="12.6"/>
<path d="M1164.27,583.27 C1164.69,583.27 1165.55,583.27 1166.83,583.27 C1168.11,583.27 1169.39,583.27 1171.96,583.27 C1174.53,583.27 1177.11,583.27 1182.25,583.27 C1187.39,583.27 1192.53,583.38 1202.81,583.27 C1213.08,583.17 1223.36,582.95 1243.91,582.63 C1264.47,582.31 1285.02,586.53 1326.12,581.35 C1367.23,576.17 1408.34,568.19 1490.55,551.56 C1572.76,534.93 1764.59,493.24 1819.4,481.58" fill="none" stroke="#000" stroke-width="3.75" stroke-linecap="round" stroke-linejoin="round" stroke-dasharray="11.1 15.1"/>
<path d="M1164.27,581.35 C1164.69,581.35 1165.55,581.35 1166.83,581.35 C1168.11,581.35 1169.39,581.35 1171.96,581.35 C1174.53,581.35 1177.11,581.35 1182.25,581.35 C1187.39,581.35 1192.53,581.35 1202.81,581.35 C1213.08,581.35 1223.36,586.76 1243.91,581.35 C1264.47,575.93 1285.02,577.67 1326.12,548.86 C1367.23,520.06 1408.34,468.81 1490.55,408.52 C1572.76,348.24 1764.59,224.05 1819.4,187.16" fill="none" stroke="#000" stroke-width="3.75" stroke-linecap="round" stroke-linejoin="round" stroke-dasharray="25.95 45.25" stroke-dashoffset="26.5"/>
<path d="M1164.27,573.59 L1172.12,581.99 L1164.27,590.39 L1156.42,581.99 Z" fill="none" stroke="#000" stroke-width="1.9"/>
<path d="M1166.83,573.59 L1174.68,581.99 L1166.83,590.39 L1158.98,581.99 Z" fill="none" stroke="#000" stroke-width="1.9"/>
<path d="M1171.96,573.59 L1179.81,581.99 L1171.96,590.39 L1164.11,581.99 Z" fill="none" stroke="#000" stroke-width="1.9"/>
<path d="M1182.25,573.59 L1190.1,581.99 L1182.25,590.39 L1174.4,581.99 Z" fill="none" stroke="#000" stroke-width="1.9"/>
<path d="M1202.81,573.59 L1210.66,581.99 L1202.81,590.39 L1194.96,581.99 Z" fill="none" stroke="#000" stroke-width="1.9"/>
<path d="M1243.91,573.59 L1251.76,581.99 L1243.91,590.39 L1236.06,581.99 Z" fill="none" stroke="#000" stroke-width="1.9"/>
<path d="M1326.12,574.23 L1333.97,582.63 L1326.12,591.03 L1318.28,582.63 Z" fill="none" stroke="#000" stroke-width="1.9"/>
<path d="M1490.55,574.23 L1498.4,582.63 L1490.55,591.03 L1482.7,582.63 Z" fill="none" stroke="#000" stroke-width="1.9"/>
<path d="M1819.4,562.93 L1827.25,571.33 L1819.4,579.73 L1811.55,571.33 Z" fill="none" stroke="#000" stroke-width="1.9"/>
<path d="M1164.27,575.67 L1171.97,592.17 L1156.57,592.17 Z" fill="none" stroke="#000" stroke-width="1.9"/>
<path d="M1166.83,575.67 L1174.53,592.17 L1159.13,592.17 Z" fill="none" stroke="#000" stroke-width="1.9"/>
<path d="M1171.96,575.67 L1179.66,592.17 L1164.26,592.17 Z" fill="none" stroke="#000" stroke-width="1.9"/>
<path d="M1182.25,576.31 L1189.95,592.81 L1174.55,592.81 Z" fill="none" stroke="#000" stroke-width="1.9"/>
<path d="M1202.81,576.95 L1210.51,593.45 L1195.11,593.45 Z" fill="none" stroke="#000" stroke-width="1.9"/>
<path d="M1243.91,576.95 L1251.61,593.45 L1236.21,593.45 Z" fill="none" stroke="#000" stroke-width="1.9"/>
<path d="M1326.12,577.59 L1333.83,594.09 L1318.42,594.09 Z" fill="none" stroke="#000" stroke-width="1.9"/>
<path d="M1490.55,576.31 L1498.25,592.81 L1482.85,592.81 Z" fill="none" stroke="#000" stroke-width="1.9"/>
<path d="M1819.4,541 L1827.1,557.5 L1811.7,557.5 Z" fill="none" stroke="#000" stroke-width="1.9"/>
<path d="M1155.22,573.58 L1173.32,591.68 M1173.32,573.58 L1155.22,591.68 M1164.27,573.58 L1164.27,591.68" stroke="#000" stroke-width="1.9" fill="none"/>
<path d="M1157.78,573.58 L1175.88,591.68 M1175.88,573.58 L1157.78,591.68 M1166.83,573.58 L1166.83,591.68" stroke="#000" stroke-width="1.9" fill="none"/>
<path d="M1162.91,573.58 L1181.01,591.68 M1181.01,573.58 L1162.91,591.68 M1171.96,573.58 L1171.96,591.68" stroke="#000" stroke-width="1.9" fill="none"/>
<path d="M1173.2,573.58 L1191.3,591.68 M1191.3,573.58 L1173.2,591.68 M1182.25,573.58 L1182.25,591.68" stroke="#000" stroke-width="1.9" fill="none"/>
<path d="M1193.76,573.58 L1211.86,591.68 M1211.86,573.58 L1193.76,591.68 M1202.81,573.58 L1202.81,591.68" stroke="#000" stroke-width="1.9" fill="none"/>
<path d="M1234.86,573.58 L1252.96,591.68 M1252.96,573.58 L1234.86,591.68 M1243.91,573.58 L1243.91,591.68" stroke="#000" stroke-width="1.9" fill="none"/>
<path d="M1317.08,572.94 L1335.17,591.04 M1335.17,572.94 L1317.08,591.04 M1326.12,572.94 L1326.12,591.04" stroke="#000" stroke-width="1.9" fill="none"/>
<path d="M1481.5,572.3 L1499.6,590.4 M1499.6,572.3 L1481.5,590.4 M1490.55,572.3 L1490.55,590.4" stroke="#000" stroke-width="1.9" fill="none"/>
<path d="M1810.35,525.43 L1828.45,543.53 M1828.45,525.43 L1810.35,543.53 M1819.4,525.43 L1819.4,543.53" stroke="#000" stroke-width="1.9" fill="none"/>
<path d="M1155.22,583.92 L1173.32,583.92 M1164.27,575.17 L1164.27,592.67" stroke="#000" stroke-width="1.9" fill="none"/>
<path d="M1157.78,583.92 L1175.88,583.92 M1166.83,575.17 L1166.83,592.67" stroke="#000" stroke-width="1.9" fill="none"/>
<path d="M1162.91,583.92 L1181.01,583.92 M1171.96,575.17 L1171.96,592.67" stroke="#000" stroke-width="1.9" fill="none"/>
<path d="M1173.2,583.92 L1191.3,583.92 M1182.25,575.17 L1182.25,592.67" stroke="#000" stroke-width="1.9" fill="none"/>
<path d="M1193.76,583.92 L1211.86,583.92 M1202.81,575.17 L1202.81,592.67" stroke="#000" stroke-width="1.9" fill="none"/>
<path d="M1234.86,583.27 L1252.96,583.27 M1243.91,574.52 L1243.91,592.02" stroke="#000" stroke-width="1.9" fill="none"/>
<path d="M1317.08,582.63 L1335.17,582.63 M1326.12,573.88 L1326.12,591.38" stroke="#000" stroke-width="1.9" fill="none"/>
<path d="M1481.5,551.82 L1499.6,551.82 M1490.55,543.07 L1490.55,560.57" stroke="#000" stroke-width="1.9" fill="none"/>
<path d="M1810.35,360.63 L1828.45,360.63 M1819.4,351.88 L1819.4,369.38" stroke="#000" stroke-width="1.9" fill="none"/>
<path d="M1155.07,574.07 L1173.47,592.47 M1173.47,574.07 L1155.07,592.47" stroke="#000" stroke-width="1.9" fill="none"/>
<path d="M1157.63,574.07 L1176.03,592.47 M1176.03,574.07 L1157.63,592.47" stroke="#000" stroke-width="1.9" fill="none"/>
<path d="M1162.76,574.07 L1181.16,592.47 M1181.16,574.07 L1162.76,592.47" stroke="#000" stroke-width="1.9" fill="none"/>
<path d="M1173.05,574.07 L1191.45,592.47 M1191.45,574.07 L1173.05,592.47" stroke="#000" stroke-width="1.9" fill="none"/>
<path d="M1193.61,574.07 L1212.01,592.47 M1212.01,574.07 L1193.61,592.47" stroke="#000" stroke-width="1.9" fill="none"/>
<path d="M1234.71,573.43 L1253.11,591.83 M1253.11,573.43 L1234.71,591.83" stroke="#000" stroke-width="1.9" fill="none"/>
<path d="M1316.92,572.15 L1335.33,590.55 M1335.33,572.15 L1316.92,590.55" stroke="#000" stroke-width="1.9" fill="none"/>
<path d="M1481.35,542.36 L1499.75,560.76 M1499.75,542.36 L1481.35,560.76" stroke="#000" stroke-width="1.9" fill="none"/>
<path d="M1810.2,472.38 L1828.6,490.78 M1828.6,472.38 L1810.2,490.78" stroke="#000" stroke-width="1.9" fill="none"/>
<rect x="1156.32" y="573.4" width="15.9" height="15.9" fill="none" stroke="#000" stroke-width="1.9"/>
<rect x="1158.88" y="573.4" width="15.9" height="15.9" fill="none" stroke="#000" stroke-width="1.9"/>
<rect x="1164.01" y="573.4" width="15.9" height="15.9" fill="none" stroke="#000" stroke-width="1.9"/>
<rect x="1174.3" y="573.4" width="15.9" height="15.9" fill="none" stroke="#000" stroke-width="1.9"/>
<rect x="1194.86" y="573.4" width="15.9" height="15.9" fill="none" stroke="#000" stroke-width="1.9"/>
<rect x="1235.96" y="573.4" width="15.9" height="15.9" fill="none" stroke="#000" stroke-width="1.9"/>
<rect x="1318.17" y="540.91" width="15.9" height="15.9" fill="none" stroke="#000" stroke-width="1.9"/>
<rect x="1482.6" y="400.57" width="15.9" height="15.9" fill="none" stroke="#000" stroke-width="1.9"/>
<rect x="1811.45" y="179.21" width="15.9" height="15.9" fill="none" stroke="#000" stroke-width="1.9"/>
<path d="M1191.17,82.6 H1283.72" stroke="#000" stroke-width="3.75" stroke-linecap="round"/>
<path d="M1191.2,116.4 H1283.6" stroke="#000" stroke-width="3.9" stroke-linecap="round" stroke-dasharray="0.01 7.48"/>
<path d="M1191.17,149.9 H1283.72" stroke="#000" stroke-width="3.75" stroke-linecap="round" stroke-dasharray="7.35 7.55"/>
<path d="M1191.17,186.5 H1283.72" stroke="#000" stroke-width="3.75" stroke-linecap="round" stroke-dasharray="25.95 15.05"/>
<path d="M1191.17,220.2 H1283.72" stroke="#000" stroke-width="3.75" stroke-linecap="round" stroke-dasharray="11.1 15.1"/>
<path d="M1191.17,256.6 H1283.72" stroke="#000" stroke-width="3.75" stroke-linecap="round" stroke-dasharray="25.95 45.25"/>
<path d="M1238.9,76.35 L1243.7,82.35 L1238.9,88.35 L1234.1,82.35 Z" fill="none" stroke="#000" stroke-width="1.9"/>
<path d="M1238.85,110.95 L1244.25,121.85 L1233.45,121.85 Z" fill="none" stroke="#000" stroke-width="1.9"/>
<path d="M1234.15,144.95 L1246.45,157.65 M1246.45,144.95 L1234.15,157.65 M1240.3,144.95 L1240.3,157.65" stroke="#000" stroke-width="1.9" fill="none"/>
<path d="M1238.9,181.9 V193.9" stroke="#000" stroke-width="1.9"/>
<path d="M1234.15,215.2 L1246.45,227.8 M1246.45,215.2 L1234.15,227.8" stroke="#000" stroke-width="1.9" fill="none"/>
<rect x="1230.55" y="248.2" width="10.9" height="11.2" fill="none" stroke="#000" stroke-width="1.9"/>
<text x="1295.91" y="89" font-size="28.2" textLength="78.47" lengthAdjust="spacingAndGlyphs"><tspan font-style="italic">L</tspan>-6-C5</text>
<text x="1295.89" y="123.2" font-size="28.2" textLength="132.75" lengthAdjust="spacingAndGlyphs"><tspan font-style="italic">L</tspan>-6-C5-Leu</text>
<text x="1295.91" y="159" font-size="28.2" textLength="78.83" lengthAdjust="spacingAndGlyphs"><tspan font-style="italic">L</tspan>-6-C6</text>
<text x="1295.89" y="192.7" font-size="28.2" textLength="132.75" lengthAdjust="spacingAndGlyphs"><tspan font-style="italic">L</tspan>-6-C6-Leu</text>
<text x="1295.91" y="229.3" font-size="28.2" textLength="78.38" lengthAdjust="spacingAndGlyphs"><tspan font-style="italic">L</tspan>-6-C7</text>
<text x="1295.89" y="263.1" font-size="28.2" textLength="132.75" lengthAdjust="spacingAndGlyphs"><tspan font-style="italic">L</tspan>-6-C7-Leu</text>
<path d="M160.5,779.6 L160.5,1302 L957.54,1302" fill="none" stroke="#000" stroke-width="2.8" stroke-linejoin="round"/>
<line x1="152.5" y1="1302" x2="160.5" y2="1302" stroke="#000" stroke-width="2.8"/>
<line x1="152.5" y1="1236.7" x2="160.5" y2="1236.7" stroke="#000" stroke-width="2.8"/>
<line x1="152.5" y1="1171.4" x2="160.5" y2="1171.4" stroke="#000" stroke-width="2.8"/>
<line x1="152.5" y1="1106.1" x2="160.5" y2="1106.1" stroke="#000" stroke-width="2.8"/>
<line x1="152.5" y1="1040.8" x2="160.5" y2="1040.8" stroke="#000" stroke-width="2.8"/>
<line x1="152.5" y1="975.5" x2="160.5" y2="975.5" stroke="#000" stroke-width="2.8"/>
<line x1="152.5" y1="910.2" x2="160.5" y2="910.2" stroke="#000" stroke-width="2.8"/>
<line x1="152.5" y1="844.9" x2="160.5" y2="844.9" stroke="#000" stroke-width="2.8"/>
<line x1="152.5" y1="779.6" x2="160.5" y2="779.6" stroke="#000" stroke-width="2.8"/>
<line x1="160.5" y1="1302" x2="160.5" y2="1310" stroke="#000" stroke-width="2.8"/>
<line x1="293.34" y1="1302" x2="293.34" y2="1310" stroke="#000" stroke-width="2.8"/>
<line x1="426.18" y1="1302" x2="426.18" y2="1310" stroke="#000" stroke-width="2.8"/>
<line x1="559.02" y1="1302" x2="559.02" y2="1310" stroke="#000" stroke-width="2.8"/>
<line x1="691.86" y1="1302" x2="691.86" y2="1310" stroke="#000" stroke-width="2.8"/>
<line x1="824.7" y1="1302" x2="824.7" y2="1310" stroke="#000" stroke-width="2.8"/>
<line x1="957.54" y1="1302" x2="957.54" y2="1310" stroke="#000" stroke-width="2.8"/>
<text x="120.39" y="1311.72" font-size="28.25">0</text>
<text x="120.47" y="1246.42" font-size="28.25">5</text>
<text x="104.68" y="1181.12" font-size="28.25">10</text>
<text x="104.76" y="1115.82" font-size="28.25">15</text>
<text x="104.68" y="1050.52" font-size="28.25">20</text>
<text x="104.76" y="985.22" font-size="28.25">25</text>
<text x="104.68" y="919.92" font-size="28.25">30</text>
<text x="104.76" y="854.62" font-size="28.25">35</text>
<text x="104.68" y="789.32" font-size="28.25">40</text>
<text x="153.74" y="1351.1" font-size="28.25">0</text>
<text x="278.43" y="1351.1" font-size="28.25">20</text>
<text x="412.82" y="1351.1" font-size="28.25">40</text>
<text x="541.42" y="1351.1" font-size="28.25">60</text>
<text x="681.33" y="1351.1" font-size="28.25">80</text>
<text x="800.71" y="1351.1" font-size="28.25">100</text>
<text x="935.31" y="1351.1" font-size="28.25">120</text>
<path d="M166.48,1300.69 C166.91,1300.69 167.77,1300.69 169.06,1300.69 C170.35,1300.69 171.64,1300.69 174.22,1300.69 C176.81,1300.69 179.41,1300.69 184.58,1300.69 C189.75,1300.69 194.92,1300.69 205.26,1300.69 C215.6,1300.69 225.94,1300.69 246.62,1300.69 C267.31,1300.69 287.99,1300.91 329.35,1300.69 C370.71,1300.48 412.08,1301.93 494.8,1299.39 C577.53,1296.84 770.55,1287.74 825.7,1285.41" fill="none" stroke="#000" stroke-width="3.75" stroke-linecap="round" stroke-linejoin="round"/>
<path d="M166.48,1302 C166.91,1302 167.77,1302 169.06,1302 C170.35,1302 171.64,1302 174.22,1302 C176.81,1302 179.41,1302 184.58,1302 C189.75,1302 194.92,1302 205.26,1302 C215.6,1302 225.94,1301.89 246.62,1302 C267.31,1302.11 287.99,1302.44 329.35,1302.65 C370.71,1302.87 412.08,1305.22 494.8,1303.31 C577.53,1301.39 770.55,1293.18 825.7,1291.16" fill="none" stroke="#000" stroke-width="1.6" stroke-dasharray="1.8 2"/>
<path d="M166.48,1300.04 C166.91,1300.04 167.77,1300.04 169.06,1300.04 C170.35,1300.04 171.64,1300.04 174.22,1300.04 C176.81,1300.04 179.41,1300.04 184.58,1300.04 C189.75,1300.04 194.92,1300.04 205.26,1300.04 C215.6,1300.04 225.94,1299.93 246.62,1300.04 C267.31,1300.15 287.99,1301.28 329.35,1300.69 C370.71,1300.11 412.08,1300.43 494.8,1296.51 C577.53,1292.6 770.55,1280.41 825.7,1277.19" fill="none" stroke="#000" stroke-width="3.75" stroke-linecap="round" stroke-linejoin="round" stroke-dasharray="7.35 7.55"/>
<path d="M166.48,1300.69 C166.91,1300.69 167.77,1300.69 169.06,1300.69 C170.35,1300.69 171.64,1300.69 174.22,1300.69 C176.81,1300.69 179.41,1300.69 184.58,1300.69 C189.75,1300.69 194.92,1300.69 205.26,1300.69 C215.6,1300.69 225.94,1300.8 246.62,1300.69 C267.31,1300.59 287.99,1303.55 329.35,1300.04 C370.71,1296.54 412.08,1302.7 494.8,1279.67 C577.53,1256.64 770.55,1181.5 825.7,1161.87" fill="none" stroke="#000" stroke-width="3.75" stroke-linecap="round" stroke-linejoin="round" stroke-dasharray="25.95 15.05"/>
<path d="M166.48,1300.69 C166.91,1300.69 167.77,1300.69 169.06,1300.69 C170.35,1300.69 171.64,1300.69 174.22,1300.69 C176.81,1300.69 179.41,1300.69 184.58,1300.69 C189.75,1300.69 194.92,1300.69 205.26,1300.69 C215.6,1300.69 225.94,1301.46 246.62,1300.69 C267.31,1299.93 287.99,1299.63 329.35,1296.12 C370.71,1292.62 412.08,1299.63 494.8,1279.67 C577.53,1259.71 770.55,1193.58 825.7,1176.36" fill="none" stroke="#000" stroke-width="3.75" stroke-linecap="round" stroke-linejoin="round" stroke-dasharray="11.1 15.1" stroke-dashoffset="-10.9"/>
<path d="M166.48,1299.39 C166.91,1299.39 167.77,1299.39 169.06,1299.39 C170.35,1299.39 171.64,1299.39 174.22,1299.39 C176.81,1299.39 179.41,1299.39 184.58,1299.39 C189.75,1299.39 194.92,1299.39 205.26,1299.39 C215.6,1299.39 225.94,1303.09 246.62,1299.39 C267.31,1295.69 287.99,1298.65 329.35,1277.19 C370.71,1255.72 412.08,1242.23 494.8,1170.62 C577.53,1099 770.55,901.36 825.7,847.51" fill="none" stroke="#000" stroke-width="3.75" stroke-linecap="round" stroke-linejoin="round" stroke-dasharray="25.95 45.25" stroke-dashoffset="-18.3"/>
<path d="M166.48,1292.54 L174.83,1300.69 L166.48,1308.84 L158.13,1300.69 Z" fill="none" stroke="#000" stroke-width="1.9"/>
<path d="M169.06,1292.54 L177.41,1300.69 L169.06,1308.84 L160.71,1300.69 Z" fill="none" stroke="#000" stroke-width="1.9"/>
<path d="M174.22,1292.54 L182.57,1300.69 L174.22,1308.84 L165.87,1300.69 Z" fill="none" stroke="#000" stroke-width="1.9"/>
<path d="M184.58,1292.54 L192.93,1300.69 L184.58,1308.84 L176.23,1300.69 Z" fill="none" stroke="#000" stroke-width="1.9"/>
<path d="M205.26,1292.54 L213.61,1300.69 L205.26,1308.84 L196.91,1300.69 Z" fill="none" stroke="#000" stroke-width="1.9"/>
<path d="M246.62,1292.54 L254.97,1300.69 L246.62,1308.84 L238.28,1300.69 Z" fill="none" stroke="#000" stroke-width="1.9"/>
<path d="M329.35,1292.54 L337.7,1300.69 L329.35,1308.84 L321,1300.69 Z" fill="none" stroke="#000" stroke-width="1.9"/>
<path d="M494.8,1291.24 L503.15,1299.39 L494.8,1307.54 L486.45,1299.39 Z" fill="none" stroke="#000" stroke-width="1.9"/>
<path d="M825.7,1277.26 L834.05,1285.41 L825.7,1293.56 L817.35,1285.41 Z" fill="none" stroke="#000" stroke-width="1.9"/>
<path d="M166.48,1297.55 L171.93,1306.45 L161.03,1306.45 Z" fill="none" stroke="#000" stroke-width="1.9"/>
<path d="M169.06,1297.55 L174.51,1306.45 L163.61,1306.45 Z" fill="none" stroke="#000" stroke-width="1.9"/>
<path d="M174.22,1297.55 L179.67,1306.45 L168.77,1306.45 Z" fill="none" stroke="#000" stroke-width="1.9"/>
<path d="M184.58,1297.55 L190.03,1306.45 L179.13,1306.45 Z" fill="none" stroke="#000" stroke-width="1.9"/>
<path d="M205.26,1297.55 L210.71,1306.45 L199.81,1306.45 Z" fill="none" stroke="#000" stroke-width="1.9"/>
<path d="M246.62,1297.55 L252.07,1306.45 L241.18,1306.45 Z" fill="none" stroke="#000" stroke-width="1.9"/>
<path d="M329.35,1298.2 L334.8,1307.1 L323.9,1307.1 Z" fill="none" stroke="#000" stroke-width="1.9"/>
<path d="M494.8,1298.86 L500.25,1307.76 L489.35,1307.76 Z" fill="none" stroke="#000" stroke-width="1.9"/>
<path d="M825.7,1286.71 L831.15,1295.61 L820.25,1295.61 Z" fill="none" stroke="#000" stroke-width="1.9"/>
<path d="M157.53,1291.09 L175.43,1308.99 M175.43,1291.09 L157.53,1308.99 M166.48,1291.09 L166.48,1308.99" stroke="#000" stroke-width="1.9" fill="none"/>
<path d="M160.11,1291.09 L178.01,1308.99 M178.01,1291.09 L160.11,1308.99 M169.06,1291.09 L169.06,1308.99" stroke="#000" stroke-width="1.9" fill="none"/>
<path d="M165.27,1291.09 L183.17,1308.99 M183.17,1291.09 L165.27,1308.99 M174.22,1291.09 L174.22,1308.99" stroke="#000" stroke-width="1.9" fill="none"/>
<path d="M175.63,1291.09 L193.53,1308.99 M193.53,1291.09 L175.63,1308.99 M184.58,1291.09 L184.58,1308.99" stroke="#000" stroke-width="1.9" fill="none"/>
<path d="M196.31,1291.09 L214.21,1308.99 M214.21,1291.09 L196.31,1308.99 M205.26,1291.09 L205.26,1308.99" stroke="#000" stroke-width="1.9" fill="none"/>
<path d="M237.68,1291.09 L255.57,1308.99 M255.57,1291.09 L237.68,1308.99 M246.62,1291.09 L246.62,1308.99" stroke="#000" stroke-width="1.9" fill="none"/>
<path d="M320.4,1291.74 L338.3,1309.64 M338.3,1291.74 L320.4,1309.64 M329.35,1291.74 L329.35,1309.64" stroke="#000" stroke-width="1.9" fill="none"/>
<path d="M485.85,1287.56 L503.75,1305.46 M503.75,1287.56 L485.85,1305.46 M494.8,1287.56 L494.8,1305.46" stroke="#000" stroke-width="1.9" fill="none"/>
<path d="M816.75,1268.24 L834.65,1286.14 M834.65,1268.24 L816.75,1286.14 M825.7,1268.24 L825.7,1286.14" stroke="#000" stroke-width="1.9" fill="none"/>
<path d="M160.43,1300.69 L172.53,1300.69 M166.48,1294.74 L166.48,1306.64" stroke="#000" stroke-width="1.9" fill="none"/>
<path d="M163.01,1300.69 L175.11,1300.69 M169.06,1294.74 L169.06,1306.64" stroke="#000" stroke-width="1.9" fill="none"/>
<path d="M168.17,1300.69 L180.27,1300.69 M174.22,1294.74 L174.22,1306.64" stroke="#000" stroke-width="1.9" fill="none"/>
<path d="M178.53,1300.69 L190.63,1300.69 M184.58,1294.74 L184.58,1306.64" stroke="#000" stroke-width="1.9" fill="none"/>
<path d="M199.21,1300.69 L211.31,1300.69 M205.26,1294.74 L205.26,1306.64" stroke="#000" stroke-width="1.9" fill="none"/>
<path d="M240.57,1300.69 L252.68,1300.69 M246.62,1294.74 L246.62,1306.64" stroke="#000" stroke-width="1.9" fill="none"/>
<path d="M323.3,1300.04 L335.4,1300.04 M329.35,1294.09 L329.35,1305.99" stroke="#000" stroke-width="1.9" fill="none"/>
<path d="M488.75,1279.67 L500.85,1279.67 M494.8,1273.72 L494.8,1285.62" stroke="#000" stroke-width="1.9" fill="none"/>
<path d="M819.65,1161.87 L831.75,1161.87 M825.7,1155.92 L825.7,1167.82" stroke="#000" stroke-width="1.9" fill="none"/>
<path d="M157.53,1291.74 L175.43,1309.64 M175.43,1291.74 L157.53,1309.64" stroke="#000" stroke-width="1.9" fill="none"/>
<path d="M160.11,1291.74 L178.01,1309.64 M178.01,1291.74 L160.11,1309.64" stroke="#000" stroke-width="1.9" fill="none"/>
<path d="M165.27,1291.74 L183.17,1309.64 M183.17,1291.74 L165.27,1309.64" stroke="#000" stroke-width="1.9" fill="none"/>
<path d="M175.63,1291.74 L193.53,1309.64 M193.53,1291.74 L175.63,1309.64" stroke="#000" stroke-width="1.9" fill="none"/>
<path d="M196.31,1291.74 L214.21,1309.64 M214.21,1291.74 L196.31,1309.64" stroke="#000" stroke-width="1.9" fill="none"/>
<path d="M237.68,1291.74 L255.57,1309.64 M255.57,1291.74 L237.68,1309.64" stroke="#000" stroke-width="1.9" fill="none"/>
<path d="M320.4,1287.17 L338.3,1305.07 M338.3,1287.17 L320.4,1305.07" stroke="#000" stroke-width="1.9" fill="none"/>
<path d="M485.85,1270.72 L503.75,1288.62 M503.75,1270.72 L485.85,1288.62" stroke="#000" stroke-width="1.9" fill="none"/>
<path d="M816.75,1167.41 L834.65,1185.31 M834.65,1167.41 L816.75,1185.31" stroke="#000" stroke-width="1.9" fill="none"/>
<rect x="158.43" y="1291.34" width="16.1" height="16.1" fill="none" stroke="#000" stroke-width="1.9"/>
<rect x="161.01" y="1291.34" width="16.1" height="16.1" fill="none" stroke="#000" stroke-width="1.9"/>
<rect x="166.17" y="1291.34" width="16.1" height="16.1" fill="none" stroke="#000" stroke-width="1.9"/>
<rect x="176.53" y="1291.34" width="16.1" height="16.1" fill="none" stroke="#000" stroke-width="1.9"/>
<rect x="197.21" y="1291.34" width="16.1" height="16.1" fill="none" stroke="#000" stroke-width="1.9"/>
<rect x="238.57" y="1291.34" width="16.1" height="16.1" fill="none" stroke="#000" stroke-width="1.9"/>
<rect x="321.3" y="1269.14" width="16.1" height="16.1" fill="none" stroke="#000" stroke-width="1.9"/>
<rect x="486.75" y="1162.57" width="16.1" height="16.1" fill="none" stroke="#000" stroke-width="1.9"/>
<rect x="817.65" y="839.46" width="16.1" height="16.1" fill="none" stroke="#000" stroke-width="1.9"/>
<path d="M494.8,1281.79 L504.65,1288.94 L494.8,1296.09 L484.95,1288.94 Z" fill="none" stroke="#000" stroke-width="1.9"/>
<path d="M197.18,791.2 H292.32" stroke="#000" stroke-width="3.75" stroke-linecap="round"/>
<path d="M195.8,824.8 H292.7" stroke="#000" stroke-width="1.9" stroke-dasharray="1.9 1.86"/>
<path d="M197.18,861.1 H292.32" stroke="#000" stroke-width="3.75" stroke-linecap="round" stroke-dasharray="7.35 7.55"/>
<path d="M197.18,894.9 H292.32" stroke="#000" stroke-width="3.75" stroke-linecap="round" stroke-dasharray="25.95 15.05"/>
<path d="M197.18,931.4 H292.32" stroke="#000" stroke-width="3.75" stroke-linecap="round" stroke-dasharray="11.1 15.1"/>
<path d="M197.18,965 H292.32" stroke="#000" stroke-width="3.75" stroke-linecap="round" stroke-dasharray="25.95 45.25"/>
<path d="M244.7,784.95 L249.5,791.15 L244.7,797.35 L239.9,791.15 Z" fill="none" stroke="#000" stroke-width="1.9"/>
<path d="M244.75,819.55 L250.05,830.05 L239.45,830.05 Z" fill="none" stroke="#000" stroke-width="1.9"/>
<path d="M239.9,856.35 L252.5,868.65 M252.5,856.35 L239.9,868.65 M246.2,856.35 L246.2,868.65" stroke="#000" stroke-width="1.9" fill="none"/>
<path d="M244.8,889.2 V903" stroke="#000" stroke-width="1.9"/>
<path d="M239.9,926.35 L252.5,939.25 M252.5,926.35 L239.9,939.25" stroke="#000" stroke-width="1.9" fill="none"/>
<rect x="236.65" y="957.15" width="10.9" height="10.5" fill="none" stroke="#000" stroke-width="1.9"/>
<text x="302.77" y="797.5" font-size="28.6" textLength="87.37" lengthAdjust="spacingAndGlyphs"><tspan font-style="italic">D</tspan>-6-C5</text>
<text x="302.76" y="834.3" font-size="28.6" textLength="142.86" lengthAdjust="spacingAndGlyphs"><tspan font-style="italic">D</tspan>-6-C5-Leu</text>
<text x="302.77" y="867.9" font-size="28.6" textLength="87.43" lengthAdjust="spacingAndGlyphs"><tspan font-style="italic">D</tspan>-6-C6</text>
<text x="302.76" y="901.7" font-size="28.6" textLength="142.86" lengthAdjust="spacingAndGlyphs"><tspan font-style="italic">D</tspan>-6-C6-Leu</text>
<text x="302.77" y="938.2" font-size="28.6" textLength="87.35" lengthAdjust="spacingAndGlyphs"><tspan font-style="italic">D</tspan>-6-C7</text>
<text x="302.76" y="971.6" font-size="28.6" textLength="142.86" lengthAdjust="spacingAndGlyphs"><tspan font-style="italic">D</tspan>-6-C7-Leu</text>
<path d="M1160.3,779.7 L1160.3,1303.3" fill="none" stroke="#000" stroke-width="2.8"/>
<line x1="1152.3" y1="1301.9" x2="1160.3" y2="1301.9" stroke="#000" stroke-width="2.8"/>
<text x="1117.39" y="1311.62" font-size="28.25">0</text>
<line x1="1152.3" y1="1229.72" x2="1160.3" y2="1229.72" stroke="#000" stroke-width="2.8"/>
<text x="1117.47" y="1239.44" font-size="28.25">5</text>
<line x1="1152.3" y1="1157.53" x2="1160.3" y2="1157.53" stroke="#000" stroke-width="2.8"/>
<text x="1101.68" y="1167.25" font-size="28.25">10</text>
<line x1="1152.3" y1="1085.35" x2="1160.3" y2="1085.35" stroke="#000" stroke-width="2.8"/>
<text x="1101.76" y="1095.07" font-size="28.25">15</text>
<line x1="1152.3" y1="1013.16" x2="1160.3" y2="1013.16" stroke="#000" stroke-width="2.8"/>
<text x="1101.68" y="1022.88" font-size="28.25">20</text>
<line x1="1152.3" y1="940.98" x2="1160.3" y2="940.98" stroke="#000" stroke-width="2.8"/>
<text x="1101.76" y="950.7" font-size="28.25">25</text>
<line x1="1152.3" y1="868.79" x2="1160.3" y2="868.79" stroke="#000" stroke-width="2.8"/>
<text x="1101.68" y="878.51" font-size="28.25">30</text>
<line x1="1152.3" y1="796.61" x2="1160.3" y2="796.61" stroke="#000" stroke-width="2.8"/>
<text x="1101.76" y="806.33" font-size="28.25">35</text>
<text x="1195.44" y="1351.2" font-size="28.25">0</text>
<text x="1283.54" y="1351.2" font-size="28.25">2</text>
<text x="1372.13" y="1351.2" font-size="28.25">4</text>
<text x="1460.47" y="1351.2" font-size="28.25">5</text>
<text x="1549.05" y="1351.2" font-size="28.25">6</text>
<text x="1637.53" y="1351.2" font-size="28.25">7</text>
<text x="1725.74" y="1351.2" font-size="28.25">8</text>
<text x="1804.66" y="1351.2" font-size="28.25">10</text>
<text x="1893.01" y="1351.2" font-size="28.25">15</text>
<rect x="1171.85" y="1299.45" width="16.8" height="2.45" fill="#bfbfbf" stroke="#000" stroke-width="2.5"/>
<rect x="1258.95" y="1277.21" width="16.8" height="24.69" fill="#bfbfbf" stroke="#000" stroke-width="2.5"/>
<rect x="1348.05" y="1285.87" width="16.8" height="16.03" fill="#bfbfbf" stroke="#000" stroke-width="2.5"/>
<rect x="1435.55" y="1287.75" width="16.8" height="14.15" fill="#bfbfbf" stroke="#000" stroke-width="2.5"/>
<rect x="1452.35" y="1299.01" width="16.8" height="2.89" fill="url(#hatchL)" stroke="#000" stroke-width="2.5"/>
<rect x="1469.15" y="1262.63" width="16.8" height="39.27" fill="#000" stroke="#000" stroke-width="2.5"/>
<rect x="1485.95" y="1290.64" width="16.8" height="11.26" fill="url(#hatchD)" stroke="#000" stroke-width="2.5"/>
<rect x="1525.25" y="1246.03" width="16.8" height="55.87" fill="#bfbfbf" stroke="#000" stroke-width="2.5"/>
<rect x="1542.05" y="1274.04" width="16.8" height="27.86" fill="url(#hatchL)" stroke="#000" stroke-width="2.5"/>
<rect x="1558.85" y="1049.11" width="16.8" height="252.79" fill="#000" stroke="#000" stroke-width="2.5"/>
<rect x="1575.65" y="1144.97" width="16.8" height="156.93" fill="url(#hatchD)" stroke="#000" stroke-width="2.5"/>
<rect x="1612.55" y="1187.27" width="16.8" height="114.63" fill="#bfbfbf" stroke="#000" stroke-width="2.5"/>
<rect x="1629.35" y="1161.86" width="16.8" height="140.04" fill="url(#hatchL)" stroke="#000" stroke-width="2.5"/>
<rect x="1646.15" y="852.91" width="16.8" height="448.99" fill="#000" stroke="#000" stroke-width="2.5"/>
<rect x="1662.95" y="796.61" width="16.8" height="505.29" fill="url(#hatchD)" stroke="#000" stroke-width="2.5"/>
<rect x="1701.65" y="1167.35" width="16.8" height="134.55" fill="#bfbfbf" stroke="#000" stroke-width="2.5"/>
<rect x="1790.25" y="1175.86" width="16.8" height="126.04" fill="#bfbfbf" stroke="#000" stroke-width="2.5"/>
<rect x="1878.95" y="827.93" width="16.8" height="473.97" fill="#bfbfbf" stroke="#000" stroke-width="2.5"/>
<line x1="1160.3" y1="1301.9" x2="1956" y2="1301.9" stroke="#000" stroke-width="2.8" stroke-linecap="round"/>
<rect x="1236" y="793.9" width="14.5" height="16.8" fill="#bfbfbf" stroke="#000" stroke-width="2.4"/>
<rect x="1236" y="836" width="14.5" height="16.9" fill="url(#hatchLs)" stroke="#000" stroke-width="2.4"/>
<rect x="1236" y="878.2" width="14.5" height="16.9" fill="#000" stroke="#000" stroke-width="2.4"/>
<rect x="1236" y="920.4" width="14.5" height="16.4" fill="url(#hatchDs)" stroke="#000" stroke-width="2.4"/>
<text x="1268.97" y="812.3" font-size="29.5" textLength="118.84" lengthAdjust="spacingAndGlyphs"><tspan font-style="italic">L</tspan>-6-Cx-Ile</text>
<text x="1268.95" y="853.7" font-size="29.5" textLength="125.17" lengthAdjust="spacingAndGlyphs"><tspan font-style="italic">D</tspan>-6-Cx-Ile</text>
<text x="1268.98" y="896.3" font-size="29.5" textLength="133.9" lengthAdjust="spacingAndGlyphs"><tspan font-style="italic">L</tspan>-6-Cx-Leu</text>
<text x="1268.97" y="937.8" font-size="29.5" textLength="139.93" lengthAdjust="spacingAndGlyphs"><tspan font-style="italic">D</tspan>-6-Cx-Leu</text>
<text x="-2.98" y="0" font-size="36.3" transform="translate(1082.5,1291.9) rotate(-90)" textLength="520.14" lengthAdjust="spacingAndGlyphs">Hemolytic activity at 100 µM (%)</text>
<text x="1364.78" y="1401.4" font-size="35.6" textLength="356.03" lengthAdjust="spacingAndGlyphs">Fatty acid chain length</text>
<text x="393.93" y="685.1" font-size="36.5" textLength="315.35" lengthAdjust="spacingAndGlyphs">Concentration (µM)</text>
<text x="1393.23" y="685.1" font-size="36.5" textLength="315.75" lengthAdjust="spacingAndGlyphs">Concentration (µM)</text>
<text x="394.53" y="1401.8" font-size="36.5" textLength="315.75" lengthAdjust="spacingAndGlyphs">Concentration (µM)</text>
<text x="-2.97" y="0" font-size="36.3" transform="translate(83.9,499) rotate(-90)" textLength="346.12" lengthAdjust="spacingAndGlyphs">Hemolytic activity (%)</text>
<text x="-2.97" y="0" font-size="36.3" transform="translate(1083.1,499) rotate(-90)" textLength="345.91" lengthAdjust="spacingAndGlyphs">Hemolytic activity (%)</text>
<text x="-2.97" y="0" font-size="36.3" transform="translate(85.1,1215.8) rotate(-90)" textLength="346.12" lengthAdjust="spacingAndGlyphs">Hemolytic activity (%)</text>
</svg></body></html>
